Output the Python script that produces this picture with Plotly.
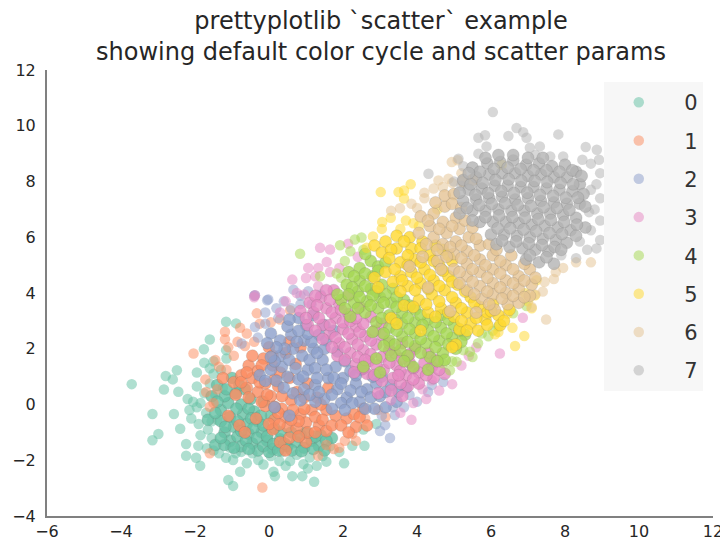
import plotly.graph_objects as go

colors = ["#66c2a5", "#fc8d62", "#8da0cb", "#e78ac3", "#a6d854", "#ffd92f", "#e5c494", "#b3b3b3"]
names = ["0", "1", "2", "3", "4", "5", "6", "7"]

edge_0 = [(-3.71,.73),(-2.84,.54),(-2.79,1.02),(-2.49,1.23),(-2.6,.9),(-2.45,.46),(-3.15,-.34),(-2.57,-.34),(-3.15,-1.28),(-2.99,-1.06),(-2.4,-.87),(-2.24,-1.42),(-2.24,-1.84),(-1.97,-1.91),(-1.86,-2.2),(-1.91,-1.48),(-1.68,-1.57),(-1.16,-1.91),(-.97,-1.99),(-.6,-2.11),(-.29,-1.99),(-.78,-2.41),(-1.1,-2.71),(-.97,-2.92),(.12,-2.41),(.16,-2.57),(.63,-2.57),(.9,-2.57),(1.22,-2.77),(2.03,-2.11),(2.25,-1.48),(2.58,-1.48),(1.29,-2.2),(.93,-2.14),(.28,-2.03),(.57,-2.03),(-1.16,2.97),(-.89,2.91),(-1.6,2.33),(-1.76,1.98),(-1.16,1.95),(-2.2,.2),(-2.05,.1),(-1.95,-.1),(-2.1,-.5),(-1.9,-.7),(-1.65,-.9),(-1.55,-1.2),(-1.4,-.55),(-1.7,-.3),(-1.75,.4),(-1.6,.75),(-1.5,1.1),(-1.75,1.5),(-1.5,1.55),(-1.3,1.25),(-1.15,1.65),(-1.25,.6),(-1.05,-1.55),(-.75,-1.7),(-.45,-1.75),(.05,-1.85),(.35,-1.7),(.75,-1.8),(1.1,-1.9),(1.45,-1.85),(1.65,-1.5),(2.55,-.9),(2.9,-.7),(-1.95,.65),(-1.85,-1.1),(-2.15,-.2),(-1.5,-1.65),(-1.35,-1.75),(-.9,-1.75),(-.15,-2.15),(.45,-2.2),(1.05,-2.3),(1.55,-2.05),(1.9,-1.7),(-1.95,1.15),(-1.6,1.3),(-1.45,.35),(-1.85,.05),(-1.55,-.6)]
core_0 = [(-1.3,-.2),(-1.3,-.6),(-1.2,-1.0),(-1.05,-1.3),(-1.1,.05),(-1.05,-.45),(-.95,-.8),(-.85,-1.15),(-.75,-1.5),(-.9,.4),(-.75,.0),(-.7,-.35),(-.6,-.7),(-.55,-1.05),(-.45,-1.4),(-.3,-1.65),(-.5,.2),(-.4,-.25),(-.3,-.6),(-.2,-1.0),(-.05,-1.3),(.1,-1.6),(-.15,.1),(.05,-.4),(.15,-.85),(.3,-1.25),(.5,-1.5),(.75,-1.35),(.95,-1.55),(1.15,-1.3),(1.35,-1.5),(.6,-1.0),(1.0,-1.0),(1.4,-1.1),(-1.55,.3),(-1.4,.7),(-1.0,.95),(-1.65,-.55),(-1.45,-1.45),(-1.2,-1.45),(-.65,.55),(1.7,-1.2),
          (-1.2,.3),(-1.45,-.3),(-1.18,-.8),(-1.3,-1.2),(-.95,-1.55),(-.88,-.15),(-.85,-.6),(-.75,-.95),(-.62,-1.3),(-.55,-1.6),(-.55,-.15),(-.48,-.5),(-.42,-.85),(-.32,-1.2),(-.15,-1.5),(.0,-1.7),(-.22,-.4),(-.15,-.75),(-.05,-1.15),(.12,-1.42),(.25,-1.65),(.32,-1.0),(.42,-1.4),(.62,-1.65),(.85,-1.1),(.88,-1.68),(1.2,-1.6),(1.25,-1.15),(1.55,-1.3),(1.5,-1.65),(-1.4,.1),(-1.15,.55),(-.8,.7)]
edge_1 = [(-.18,-2.98),(-1.6,-1.75),(1.33,-1.84),(-2.04,1.83),(-.78,2.75),(-1.19,2.61),(-1.19,2.34),(-.33,3.27),(.57,3.38),(-1.45,1.6),(-1.35,1.35),(-.95,1.75),(-.65,2.1),(-.4,2.25),(-1.72,.9),(-1.7,.45),(-1.6,-.08),(-.25,2.9),(.05,2.95),(1.55,-1.45),(2.05,-1.3),(2.25,-1.05),(2.6,-.5),(2.95,-.2),(3.15,-.45),(.3,3.05),(-1.1,2.05),(-.85,2.25),(-.6,2.55),(-1.15,1.25),(-1.4,.55),(-1.5,.05),(1.9,-1.55),(1.75,-1.6),(2.35,-1.3)]
core_1 = [(-1.25,.95),(-.95,.8),(-.9,.35),(-1.1,-.4),(-.8,-.75),(-.65,-1.0),(-.6,.6),(-.45,.95),(-.3,.45),(-.1,.75),(.05,.3),(.25,.65),(-.55,1.4),(-.3,1.2),(-.15,1.65),(.1,1.4),(-.45,1.75),(.0,2.05),(-.35,-.5),(-.1,-.05),(.15,-.55),(.35,-.15),(.6,.15),(.85,-.35),(.1,-.9),(.3,-1.35),(.5,-.8),(.75,-.85),(1.0,-.65),(1.15,-.2),(.95,.25),(1.35,-.75),(1.55,-.95),(1.8,-.4),(1.55,-.2),(2.1,-.5),(2.3,-.35),(2.55,-.15),(2.35,-.8),(2.65,-.75),(.45,-1.65),(1.0,-1.35),(.55,.95),(1.3,.25),(.45,1.85),(-.75,1.05),
          (-.75,.8),(-.55,.25),(-.2,.1),(-.05,.35),(.15,.9),(.35,.3),(.45,-.45),(.65,-.2),(.8,-.6),(.6,-.55),(.95,-.15),(1.05,-1.0),(1.25,-.45),(1.45,-.55),(1.7,-.75),(1.95,-.75),(2.15,-1.0),(2.45,-.45),(.25,-.3),(.0,-.7),(.28,-.72),(.55,-1.2),(.8,-1.15),(1.25,-1.0),(-.6,1.15),(-.2,1.4),(.1,1.75),(-.25,.8),(.3,1.15),(1.4,.0),(.75,.45),(.15,-.08),
          (.72,1.45),(1.05,.75),(1.6,.6),(.55,2.25),(.85,2.05)]
edge_2 = [(-.02,3.77),(.66,4.12),(1.06,4.06),(-.4,3.9),(4.71,.81),(-.05,3.74),(-.38,3.92),(-.38,2.78),(-.74,2.19),(3.27,-1.2),(3.14,-.74),(3.4,-.38),(3.8,.34),(.2,3.45),(.4,3.7),(3.65,-.1),(4.0,.1),(4.3,.45),(3.0,-.95),(4.4,.7),(-.1,3.3),(1.4,3.95),(.85,3.9),(-.1,2.9),(-.3,2.4),(.25,3.1),(3.35,-.1),(3.05,-.4),(.6,3.45),(.85,3.6),(1.15,3.6)]
core_2 = [(-.25,1.05),(.05,1.25),(.2,.85),(.35,1.35),(.5,1.0),(.3,1.75),(.55,1.6),(.65,2.0),(.9,1.75),(1.05,1.25),(.8,.9),(.3,2.3),(.6,2.5),(.05,2.55),(.95,2.3),(1.2,2.0),(1.45,1.6),(1.35,2.5),(1.0,2.85),(.65,.4),(.95,.55),(1.25,.7),(1.6,.95),(1.85,.55),(1.5,.2),(2.1,.25),(2.0,.95),(2.35,.75),(2.65,.55),(2.45,.1),(3.0,.3),(2.9,.75),(1.8,1.35),(2.2,1.2),(2.5,1.25),(1.55,2.3),(.8,3.1),(1.25,.1),(1.95,.05),(3.3,.7),(.15,-.1),(.55,-.4),(1.7,-.15),(3.45,.1),(2.85,-.15),(3.7,.6),
          (.15,1.55),(.42,2.0),(.72,1.3),(.92,1.0),(.75,2.25),(.5,2.8),(.2,2.05),(1.1,1.6),(1.25,1.3),(1.3,.95),(1.55,1.25),(1.75,.95),(1.1,.35),(1.35,.45),(1.7,.35),(1.95,.75),(2.2,.5),(2.5,.45),(2.75,.25),(2.25,.05),(1.15,2.25),(1.05,2.55),(.8,2.65),(.55,3.05),(1.5,2.0),(1.3,1.85),(2.05,-.2),(2.6,-.15),(3.15,-.1),(.85,.15),(.4,.6),(3.15,.45),(3.5,.45),(-.1,.85),(.05,1.7),(-.05,2.2),
          (2.05,1.55),(1.85,1.9),(2.35,1.05),(2.8,1.0),(3.05,1.0),(1.75,2.65),(1.2,3.2),(1.5,2.85)]
edge_3 = [(1.38,5.62),(1.65,5.56),(2.14,5.77),(1.56,5.11),(1.06,4.9),(1.33,4.9),(.63,4.48),(1,4.54),(1.33,4.24),(-.38,3.92),(6.86,3.11),(6.24,1.83),(4.95,.73),(4.4,.87),(.45,3.7),(-.4,3.85),(5.4,1.75),(5.2,1.4),(.75,4.0),(3.55,-.3),(3.85,-.55),(4.25,.2),(4.6,.5),(5.6,2.05),(2.4,5.3),(.95,3.95),(1.25,4.6),(1.65,4.75),(1.9,4.9),(.3,3.3),(3.9,.05),(4.15,.55),(3.3,.15)]
core_3 = [(1.1,3.65),(1.4,3.85),(1.75,4.1),(.85,3.35),(1.2,3.3),(1.55,3.45),(1.9,3.6),(1.05,2.85),(1.45,2.85),(1.8,3.1),(2.15,3.25),(1.65,2.55),(2.0,2.7),(2.35,2.8),(1.9,2.2),(2.25,2.35),(2.6,2.45),(1.85,1.75),(2.2,1.85),(2.55,1.95),(2.9,2.15),(2.35,1.45),(2.7,1.55),(3.05,1.7),(3.4,1.85),(3.1,1.25),(3.45,1.4),(3.8,1.5),(3.35,.95),(3.7,1.05),(4.05,1.15),(4.4,1.35),(4.05,.75),(4.45,.95),(4.75,1.1),(3.05,2.5),(3.6,2.2),(3.95,2.0),(4.3,1.85),(2.65,1.1),(2.75,3.15),(3.05,2.9),(2.45,3.5),(2.15,3.9),(3.75,.65),(3.05,.85),(2.95,.4),
          (1.25,3.9),(1.55,4.1),(1.3,3.55),(1.65,3.75),(1.0,3.1),(1.35,3.1),(1.7,3.3),(1.25,2.65),(1.65,2.85),(2.0,2.95),(2.2,3.0),(1.8,2.4),(2.15,2.55),(2.45,2.6),(1.7,2.05),(2.05,2.05),(2.4,2.15),(2.75,2.3),(2.05,1.6),(2.4,1.7),(2.75,1.8),(3.25,1.95),(2.55,1.3),(2.9,1.4),(3.25,1.5),(3.6,1.65),(2.85,1.05),(3.55,1.2),(3.9,1.3),(4.25,1.05),(3.55,.75),(3.9,.9),(4.6,1.25),(3.3,.5),(3.6,.3),(2.55,2.9),(2.85,2.65),(1.95,3.4),(2.35,3.1),(3.25,2.2),(3.8,1.8),(1.45,2.35),
          (2.6,1.6),(3.5,1.05),(2.3,1.15),(4.2,1.5),(4.5,1.6)]
edge_4 = [(.84,5.41),(1.92,5.71),(2.32,5.92),(2.5,5.99),(1.38,4.6),(1.83,4.7),(4.89,1.23),(5.43,1.89),(5.93,2.45),(6.96,3.53),(6.6,3.27),(4.7,1.48),(5.07,1.53),(5.65,2.2),(6.2,2.8),(5.25,1.95),(2.05,5.15),(2.2,5.5),(2.55,5.55),(1.95,4.55),(5.75,2.55),(6.05,2.65),(5.5,1.7),(4.95,1.55)]
core_4 = [(2.15,4.75),(2.45,4.9),(2.75,5.15),(2.45,4.45),(2.8,4.6),(2.1,4.3),(2.4,4.05),(2.75,4.15),(3.05,4.3),(1.95,3.75),(2.3,3.65),(2.65,3.7),(3.0,3.85),(2.6,3.3),(2.95,3.45),(3.3,3.65),(3.65,3.75),(3.25,3.2),(3.6,3.3),(3.95,3.4),(2.9,2.95),(3.25,2.75),(3.6,2.9),(3.95,2.95),(4.3,3.05),(4.65,3.2),(3.25,2.3),(3.6,2.45),(3.95,2.55),(4.3,2.65),(4.65,2.75),(5.0,2.85),(3.55,1.95),(3.95,2.1),(4.25,2.2),(4.6,2.3),(4.95,2.4),(4.35,1.7),(4.7,1.85),(5.05,2.0),(2.55,1.35),(3.0,1.15),(3.9,1.35),(4.3,1.25),(4.75,1.6),(5.3,2.5),(3.35,4.15),(2.95,4.95),
          (2.3,4.6),(2.6,4.7),(2.95,4.8),(2.25,4.2),(2.6,4.25),(2.9,4.05),(2.15,3.95),(2.45,3.85),(2.8,3.9),(3.15,3.95),(2.4,3.45),(2.75,3.55),(3.1,3.65),(3.45,3.85),(3.45,3.5),(3.8,3.55),(3.05,3.1),(3.4,3.05),(3.75,3.1),(4.1,3.2),(3.1,2.55),(3.45,2.65),(3.8,2.7),(4.15,2.85),(4.5,2.95),(4.85,3.05),(3.4,2.15),(3.75,2.25),(4.1,2.35),(4.45,2.45),(4.8,2.55),(5.15,2.65),(3.75,1.75),(4.1,1.85),(4.5,2.05),(4.85,2.15),(5.2,2.25),(4.55,1.55),(2.9,1.65),(3.65,1.55),(2.6,5.4),(3.15,5.1),
          (3.3,1.75),(2.2,3.15),(2.05,3.45),(1.85,3.95),(2.8,2.6),(3.1,2.1)]
edge_5 = [(3.02,7.62),(3.5,7.62),(3.65,7.68),(3.83,7.9),(3.65,7.39),(3.06,6.55),(3.29,6.7),(2.81,6.03),(2.64,5.62),(6.58,2.75),(6.11,2.52),(6.9,2.46),(6.65,2.1),(7.19,3.92),(6.92,3.99),(7.23,4.46),(6.29,8.6),(3.55,6.3),(3.05,6.3),(4.55,7.0),(3.7,6.6),(6.45,3.25),(7.0,3.7),(4.05,6.4),(3.9,6.5),(6.2,2.6),(7.1,3.45)]
core_5 = [(2.85,5.7),(3.15,5.85),(3.45,6.05),(3.8,6.0),(3.05,5.45),(3.45,5.6),(3.85,5.6),(4.15,5.85),(2.85,4.55),(3.15,4.75),(3.55,4.6),(3.55,5.1),(3.95,5.2),(4.35,5.35),(4.7,5.55),(3.85,4.75),(4.2,4.85),(4.6,5.0),(4.95,5.15),(3.35,4.4),(3.75,4.25),(4.1,4.35),(4.45,4.45),(4.85,4.6),(3.65,3.55),(4.05,3.75),(4.4,3.95),(4.75,4.1),(5.1,4.3),(4.3,3.3),(4.65,3.45),(5.05,3.65),(5.45,3.85),(5.0,3.15),(5.35,3.3),(5.7,3.5),(6.05,3.6),(5.45,2.9),(5.85,3.05),(6.2,3.2),(6.5,3.4),(5.15,2.7),(5.65,2.65),(5.05,2.15),(3.3,3.1),(4.95,2.05),(4.1,2.65),(6.25,2.85),
          (3.3,5.55),(3.65,5.85),(3.25,5.25),(3.75,5.35),(4.1,5.6),(4.5,5.7),(3.4,4.85),(3.75,5.0),(4.1,5.1),(4.45,5.15),(4.85,5.35),(3.6,4.45),(4.0,4.55),(4.35,4.65),(4.7,4.8),(3.55,4.05),(3.95,4.1),(4.3,4.15),(4.6,4.25),(4.95,4.4),(3.9,3.5),(4.25,3.6),(4.6,3.7),(4.95,3.85),(5.3,4.05),(4.5,3.15),(4.85,3.3),(5.2,3.45),(5.55,3.65),(5.9,3.3),(5.2,3.0),(5.6,3.1),(6.0,3.35),(6.35,3.0),(5.35,2.65),(5.9,2.85),(3.45,2.9),(2.95,4.2)]
edge_6 = [(7.49,3.05),(4.58,8.04),(4.94,8.7),(5.1,8.76),(3.54,7.04),(3.3,6.95),(3.85,7.2),(4.2,7.4),(4.45,7.75),(4.2,7.6),(4.0,7.05),(7.1,3.5),(7.4,4.05),(7.7,4.5),(7.95,4.9),(8.3,5.1),(8.7,5.1),(5.2,8.3),(4.85,8.1),(7.2,3.95),(7.45,4.4),(7.75,4.75),(4.7,7.8),(4.95,7.95)]
core_6 = [(4.1,6.75),(4.45,6.85),(4.75,7.1),(4.35,6.4),(4.7,6.55),(5.05,6.7),(4.05,6.15),(4.45,6.0),(4.8,6.15),(5.15,6.3),(4.7,5.75),(5.05,5.85),(5.4,6.0),(5.0,5.4),(5.35,5.5),(5.7,5.7),(4.15,5.3),(4.55,5.15),(5.35,5.05),(5.7,5.2),(6.05,5.35),(5.0,4.85),(5.35,4.6),(5.7,4.75),(6.05,4.85),(6.4,5.0),(5.35,4.1),(5.7,4.25),(6.05,4.35),(6.4,4.45),(6.75,4.6),(7.05,4.85),(5.75,3.8),(6.05,3.95),(6.4,4.0),(6.75,4.15),(7.1,4.3),(6.1,3.4),(6.45,3.6),(6.75,3.65),(7.05,3.9),(4.3,4.2),(4.9,3.35),(5.6,3.3),(3.8,4.95),(4.75,7.5),(5.0,7.55),(5.3,6.6),
          (4.3,6.6),(4.6,6.3),(4.95,6.4),(4.25,5.75),(4.55,5.55),(4.9,5.65),(5.2,5.7),(4.8,5.3),(5.2,5.25),(5.55,5.35),(5.15,4.75),(5.5,4.85),(5.85,5.0),(6.25,5.15),(5.15,4.35),(5.5,4.4),(5.9,4.55),(6.25,4.7),(6.6,4.85),(5.55,3.95),(5.9,4.05),(6.25,4.2),(6.6,4.35),(6.9,4.45),(5.95,3.6),(6.3,3.8),(6.6,3.9),(6.9,3.85),(7.2,4.55),(6.9,5.05),(5.6,5.95),(4.5,7.25),(4.95,7.2),(5.2,7.05),(5.5,6.35),(4.65,4.85),
          (5.95,5.75),(6.15,5.55),(6.55,5.35),(5.25,8.0),(5.5,8.05)]
edge_7 = [(6.05,10.49),(7.82,9.69),(6.69,9.92),(6.87,9.77),(6.96,9.57),(6.47,9.63),(5.66,9.57),(5.84,9.66),(5.88,9.26),(5.66,9),(7.32,9.26),(7.05,9.21),(8.56,9.24),(8.86,9.14),(8.47,8.78),(8.92,8.78),(8.7,8.64),(4.31,8.28),(5.12,8.82),(8.95,8.3),(8.85,7.9),(8.95,7.4),(8.8,7.0),(8.95,6.6),(8.7,6.25),(8.95,5.9),(8.6,5.55),(8.3,5.25),(7.9,5.35),(8.85,5.6),(5.25,8.55),(7.2,8.95),(5.0,8.0),(5.2,7.85),(7.6,8.9),(7.95,8.9),(8.7,7.7),(8.65,6.9),(8.4,5.85)]
core_7 = [(5.5,8.5),(5.9,8.65),(6.25,8.7),(6.6,8.75),(6.95,8.6),(7.3,8.65),(7.65,8.55),(8.0,8.6),(8.3,8.35),(5.25,8.05),(5.6,8.15),(5.95,8.25),(6.3,8.3),(6.65,8.3),(7.0,8.2),(7.35,8.25),(7.7,8.15),(8.05,8.15),(8.4,7.9),(5.4,7.7),(5.75,7.75),(6.1,7.85),(6.45,7.85),(6.8,7.8),(7.15,7.8),(7.5,7.75),(7.85,7.7),(8.2,7.65),(5.25,7.3),(5.6,7.35),(5.95,7.4),(6.3,7.45),(6.65,7.35),(7.0,7.4),(7.35,7.3),(7.7,7.25),(8.05,7.2),(8.4,7.2),(5.5,6.95),(5.85,6.95),(6.2,7.0),(6.55,6.95),(6.9,6.95),(7.25,6.85),(7.6,6.85),(7.95,6.8),(8.3,6.7),(5.7,6.55),(6.05,6.55),(6.4,6.55),(6.75,6.5),(7.1,6.45),(7.45,6.4),(7.8,6.35),(8.15,6.25),(6.0,6.1),(6.35,6.1),(6.7,6.05),(7.05,6.0),(7.4,5.95),(7.75,5.9),(8.05,5.8),(6.5,5.65),(6.85,5.6),(7.2,5.55),(7.55,5.5),(7.3,5.1),(7.7,5.05),(6.95,5.2),(6.15,5.75),(5.15,6.85),(8.5,7.55),(8.55,6.35),
          (5.7,8.35),(6.08,8.45),(6.45,8.5),(6.8,8.45),(7.15,8.4),(7.5,8.4),(7.85,8.35),(8.2,8.4),(5.45,7.9),(5.78,7.95),(6.12,8.05),(6.48,8.08),(6.82,8.02),(7.18,8.02),(7.52,7.98),(7.88,7.95),(8.22,7.9),(5.58,7.52),(5.92,7.58),(6.28,7.65),(6.62,7.58),(6.98,7.6),(7.32,7.52),(7.68,7.48),(8.02,7.42),(8.35,7.42),(5.68,7.15),(6.02,7.2),(6.38,7.22),(6.72,7.15),(7.08,7.12),(7.42,7.08),(7.78,7.05),(8.12,6.98),(5.85,6.72),(6.22,6.78),(6.58,6.72),(6.92,6.7),(7.28,6.65),(7.62,6.62),(7.98,6.55),(8.32,6.45),(6.18,6.32),(6.52,6.32),(6.88,6.28),(7.22,6.22),(7.58,6.15),(7.92,6.12),(6.3,5.88),(6.68,5.85),(7.02,5.78),(7.38,5.72),(7.72,5.65),(7.05,5.35),(7.5,5.28),
          (5.4,8.3),(5.15,7.6),(5.35,7.05),(5.5,6.6),(8.45,8.2),(8.55,7.1),(8.3,6.05),(7.9,5.55),(6.6,8.95),(6.2,8.95),(5.85,8.85),(7.0,8.85),(7.4,8.85)]

edges = [edge_0, edge_1, edge_2, edge_3, edge_4, edge_5, edge_6, edge_7]
cores = [core_0, core_1, core_2, core_3, core_4, core_5, core_6, core_7]

fig = go.Figure()
for name, color, edge, core in zip(names, colors, edges, cores):
    fig.add_trace(go.Scatter(
        x=[p[0] for p in edge], y=[p[1] for p in edge], mode="markers", name="\u2002" + name,
        legendgroup=name, showlegend=True, cliponaxis=False,
        marker=dict(size=10.5, color=color, opacity=0.52, line=dict(width=0)),
    ))
    fig.add_trace(go.Scatter(
        x=[p[0] for p in core], y=[p[1] for p in core], mode="markers", name=name,
        legendgroup=name, showlegend=False, cliponaxis=False,
        marker=dict(size=12, color=color, opacity=0.8, line=dict(width=0.5, color="rgba(90,90,90,0.4)")),
    ))

axis_common = dict(showgrid=False, zeroline=False, showline=True, linecolor="#808080", linewidth=2,
                   ticks="", automargin=False, tickfont=dict(family="DejaVu Sans", size=16, color="#262626"), dtick=2)
fig.update_layout(
    width=720, height=534, margin=dict(l=39, r=15, t=62, b=26),
    paper_bgcolor="white", plot_bgcolor="white",
    title=dict(text="prettyplotlib `scatter` example<br>showing default color cycle and scatter params",
               x=(373 / 720), xanchor="center", y=0.9607, yanchor="top", automargin=False,
               font=dict(family="DejaVu Sans", size=24, color="#262626")),
    xaxis=dict(range=[-6, 12], **axis_common),
    yaxis=dict(range=[-4, 12], ticklabelstandoff=6, **axis_common),
    legend=dict(x=0.836, xanchor="left", y=0.973, yanchor="top", bgcolor="#f7f7f7", borderwidth=0,
                tracegroupgap=8, traceorder="grouped", itemsizing="trace", itemwidth=60,
                font=dict(family="DejaVu Sans", size=21, color="#333333")),
    showlegend=True,
)
fig.write_html("out.html")
